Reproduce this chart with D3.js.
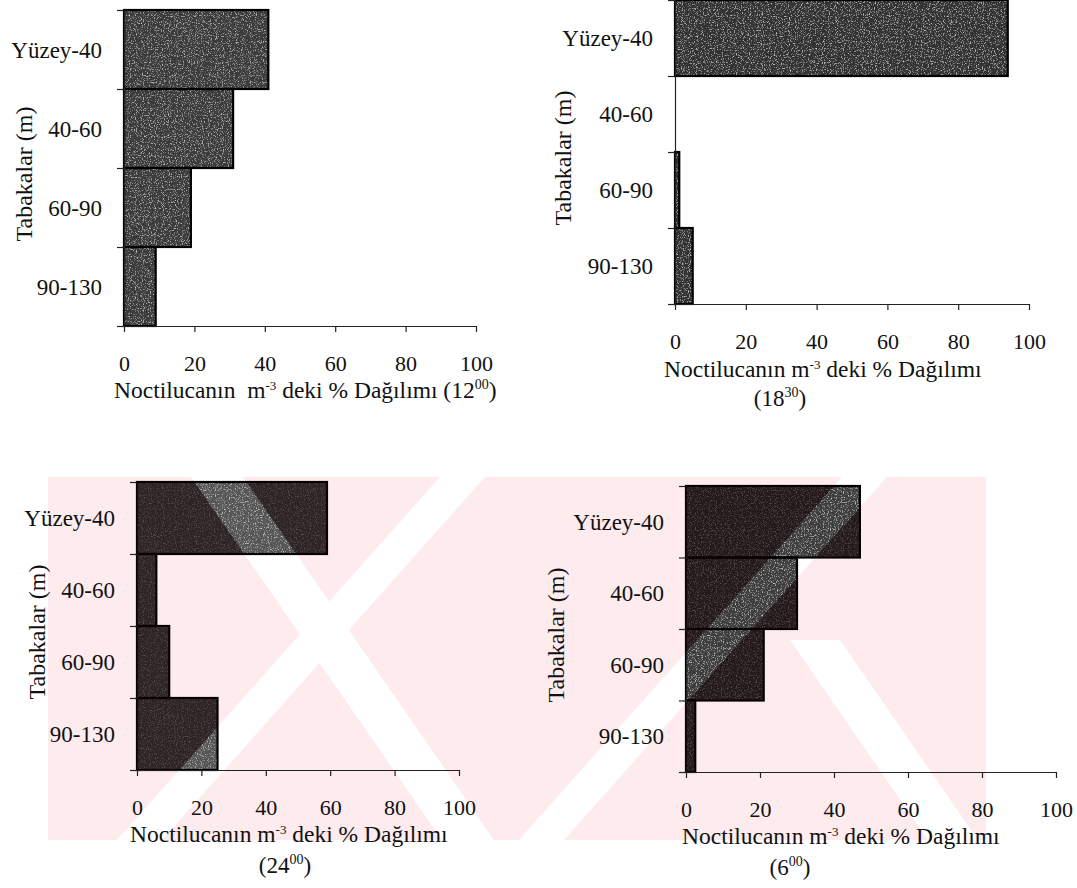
<!DOCTYPE html>
<html>
<head>
<meta charset="utf-8">
<script src="https://cdn.jsdelivr.net/npm/d3@7"></script>
<style>
  body { margin: 0; background: #fff; }
  svg, svg text { font-family: "Liberation Serif", "Times New Roman", "DejaVu Serif", serif; }
  svg text { fill: #111; white-space: pre; }
</style>
</head>
<body>
<div id="chart"></div>
<script>
// depth layers and % share of Noctiluca per m3
const layers = ["Yüzey-40", "40-60", "60-90", "90-130"];
const xTicks = [0, 20, 40, 60, 80, 100];
const pct1200 = [41, 31, 19, 9];
const pct1830 = [94, 0, 1.2, 5];
const pct2400 = [59, 6, 10, 25];
const pct0600 = [47, 30, 21, 2.5];
const hours = ["12", "18", "24", "6"];
const minutes = ["00", "30", "00", "00"];

const serif = "Liberation Serif, Times New Roman, serif";

const panels = [
  { values: pct1200, left: 124, right: 476, top: 10, bottom: 326, fill: "#3b3b3b",
    titleX: 114, titleY: 398, inlineTime: true, yTitleX: 24 },
  { values: pct1830, left: 675, right: 1029, top: 0, bottom: 304, fill: "#303030",
    titleX: 664, titleY: 377, timeX: 780, timeY: 406, yTitleX: 563 },
  { values: pct2400, left: 137, right: 459, top: 482, bottom: 770, fill: "#565656",
    titleX: 130, titleY: 842, timeX: 285, timeY: 873, yTitleX: 37 },
  { values: pct0600, left: 686, right: 1056, top: 486, bottom: 772, fill: "#3c3c3c",
    titleX: 682, titleY: 844, timeX: 790, timeY: 875, yTitleX: 556 }
];

const svg = d3.select("#chart").append("svg")
  .attr("width", 1077).attr("height", 888)
  .attr("font-family", serif);

const defs = svg.append("defs");

// speckled print texture for the bars
const grain = defs.append("filter").attr("id", "grain")
  .attr("x", 0).attr("y", 0).attr("width", 1).attr("height", 1);
grain.append("feTurbulence").attr("type", "fractalNoise")
  .attr("baseFrequency", 0.85).attr("numOctaves", 2).attr("seed", 4).attr("result", "noise");
grain.append("feColorMatrix").attr("in", "noise").attr("type", "matrix")
  .attr("values", "0 0 0 0 0.8  0 0 0 0 0.8  0 0 0 0 0.8  2.4 0 0 0 -1.3")
  .attr("result", "specks");
grain.append("feComposite").attr("in", "specks").attr("in2", "SourceGraphic")
  .attr("operator", "in").attr("result", "cl");
const merge = grain.append("feMerge");
merge.append("feMergeNode").attr("in", "SourceGraphic");
merge.append("feMergeNode").attr("in", "cl");

// watermark of the scanned thesis (pink diagonal stripes behind the lower charts)
const wm = { x0: 48, x1: 986, y0: 477, y1: 840 };
const gaps = [
  [[191, 477], [243, 477], [494, 840], [442, 840]],
  [[440, 477], [485, 477], [162, 840], [117, 840]],
  [[842, 477], [887, 477], [564, 840], [519, 840]],
  [[790, 640], [840, 640], [978, 840], [928, 840]]
];
const mask = defs.append("mask").attr("id", "wmMask").attr("maskUnits", "userSpaceOnUse")
  .attr("x", 0).attr("y", 0).attr("width", 1077).attr("height", 888);
mask.append("rect").attr("x", wm.x0).attr("y", wm.y0)
  .attr("width", wm.x1 - wm.x0).attr("height", wm.y1 - wm.y0).attr("fill", "#fff");
mask.selectAll("polygon").data(gaps).join("polygon")
  .attr("points", d => d.join(" ")).attr("fill", "#000");

svg.append("rect").attr("x", wm.x0).attr("y", wm.y0)
  .attr("width", wm.x1 - wm.x0).attr("height", wm.y1 - wm.y0)
  .attr("fill", "#fdebee").attr("mask", "url(#wmMask)");

const barClip = defs.append("clipPath").attr("id", "barClip");

const addTime = (t, i) => {
  t.append("tspan").text("(" + hours[i]);
  t.append("tspan").attr("dy", -9).attr("font-size", 14).text(minutes[i]);
  t.append("tspan").attr("dy", 9).text(")");
};

panels.forEach((p, i) => {
  const x = d3.scaleLinear().domain([0, 100]).range([p.left, p.right]);
  const y = d3.scaleBand().domain(layers).range([p.top, p.bottom]).padding(0);
  const yEdge = d3.scaleLinear().domain([0, layers.length]).range([p.top, p.bottom]);
  const g = svg.append("g");

  const rows = layers.map((name, k) => ({ name, v: p.values[k] })).filter(d => d.v > 0);

  g.selectAll(".bar-fill").data(rows).join("rect")
    .attr("class", "bar-fill")
    .attr("x", x(0)).attr("y", d => y(d.name))
    .attr("width", d => x(d.v) - x(0)).attr("height", y.bandwidth())
    .attr("fill", p.fill).attr("filter", "url(#grain)");

  if (i >= 2) {
    barClip.selectAll(null).data(rows).enter().append("rect")
      .attr("x", x(0)).attr("y", d => y(d.name))
      .attr("width", d => x(d.v) - x(0)).attr("height", y.bandwidth());
  }

  g.selectAll(".bar-edge").data(rows).join("rect")
    .attr("class", "bar-edge")
    .attr("x", x(0)).attr("y", d => y(d.name))
    .attr("width", d => x(d.v) - x(0)).attr("height", y.bandwidth())
    .attr("fill", "none").attr("stroke", "#000").attr("stroke-width", 2.2);

  const yAxis = d3.axisLeft(yEdge).tickValues(d3.range(layers.length + 1))
    .tickFormat("").tickSize(7).tickSizeOuter(0);
  g.append("g").attr("transform", `translate(${p.left},0)`).call(yAxis)
    .call(a => a.selectAll("path, line").attr("stroke", "#222").attr("stroke-width", 1.2));

  const xAxis = d3.axisBottom(x).tickValues(xTicks).tickSize(6).tickSizeOuter(0).tickPadding(23);
  g.append("g").attr("transform", `translate(0,${p.bottom})`).call(xAxis)
    .attr("font-family", serif)
    .call(a => a.selectAll("path, line").attr("stroke", "#222").attr("stroke-width", 1.2))
    .call(a => a.selectAll("text").attr("font-size", 22).attr("fill", "#111"));

  g.selectAll(".cat").data(layers).join("text")
    .attr("class", "cat")
    .attr("x", p.left - 22).attr("y", d => y(d) + y.bandwidth() / 2)
    .attr("dy", "0.35em").attr("text-anchor", "end").attr("font-size", 23)
    .text(d => d);

  g.append("text")
    .attr("transform", `translate(${p.yTitleX},${(p.top + p.bottom) / 2 + 6}) rotate(-90)`)
    .attr("text-anchor", "middle").attr("dy", "0.35em").attr("font-size", 24)
    .text("Tabakalar (m)");

  const title = g.append("text").attr("x", p.titleX).attr("y", p.titleY).attr("font-size", 23.5);
  title.append("tspan").text(p.inlineTime ? "Noctilucanın  m" : "Noctilucanın m");
  title.append("tspan").attr("dy", -8.5).attr("font-size", 13).text("-3");
  title.append("tspan").attr("dy", 8.5).text(" deki % Dağılımı" + (p.inlineTime ? " " : ""));
  if (p.inlineTime) {
    addTime(title, i);
  } else {
    const t = g.append("text").attr("x", p.timeX).attr("y", p.timeY)
      .attr("text-anchor", "middle").attr("font-size", 23);
    addTime(t, i);
  }
});

// the watermark also darkens the bars it runs under
svg.append("g").attr("clip-path", "url(#barClip)")
  .append("rect").attr("x", wm.x0).attr("y", wm.y0)
  .attr("width", wm.x1 - wm.x0).attr("height", wm.y1 - wm.y0)
  .attr("fill", "#140406").attr("fill-opacity", 0.6).attr("mask", "url(#wmMask)");
</script>
</body>
</html>
